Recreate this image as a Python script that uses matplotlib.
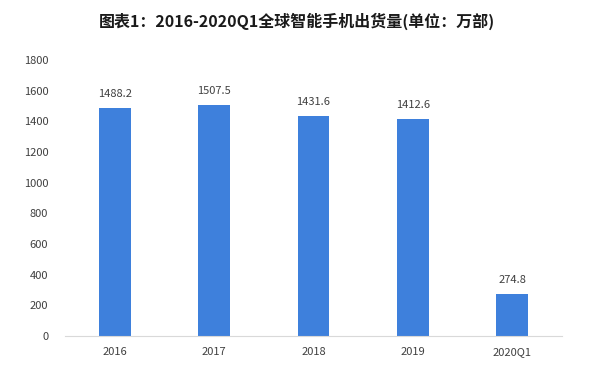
import matplotlib
matplotlib.use("Agg")
import matplotlib.pyplot as plt

plt.rcParams['font.family'] = ['Noto Sans CJK SC', 'DejaVu Sans']

categories = ["2016", "2017", "2018", "2019", "2020Q1"]
values = [1488.2, 1507.5, 1431.6, 1412.6, 274.8]
yticks = [0, 200, 400, 600, 800, 1000, 1200, 1400, 1600, 1800]
title = "图表1：2016-2020Q1全球智能手机出货量(单位：万部)"

fig = plt.figure(figsize=(5.94, 3.82), dpi=100)
ax = fig.add_axes([0.1094, 0.1204, 0.8366, 0.7226])
x = range(len(categories))
bars = ax.bar(x, values, width=0.32, color="#3E80DC", zorder=2)
for xi, v in zip(x, values):
    ax.text(xi, v + 60, f"{v:.1f}", ha="center", va="bottom", fontsize=8, color="#404040")
ax.set_xlim(-0.5, len(categories) - 0.5)
ax.set_ylim(0, 1800)
ax.set_yticks(yticks)
ax.set_yticklabels([str(t) for t in yticks])
ax.set_xticks(list(x))
ax.set_xticklabels(categories)
for s in ["top", "right", "left"]:
    ax.spines[s].set_visible(False)
ax.spines["bottom"].set_color("#D9D9D9")
ax.tick_params(axis="both", length=0, labelsize=8, colors="#404040")
ax.tick_params(axis="y", pad=12)
ax.tick_params(axis="x", pad=8)
fig.text(0.5, 0.945, title, ha="center", va="center", fontsize=11.5, fontweight="bold", color="#1a1a1a")
fig.savefig("out.png", dpi=100)
